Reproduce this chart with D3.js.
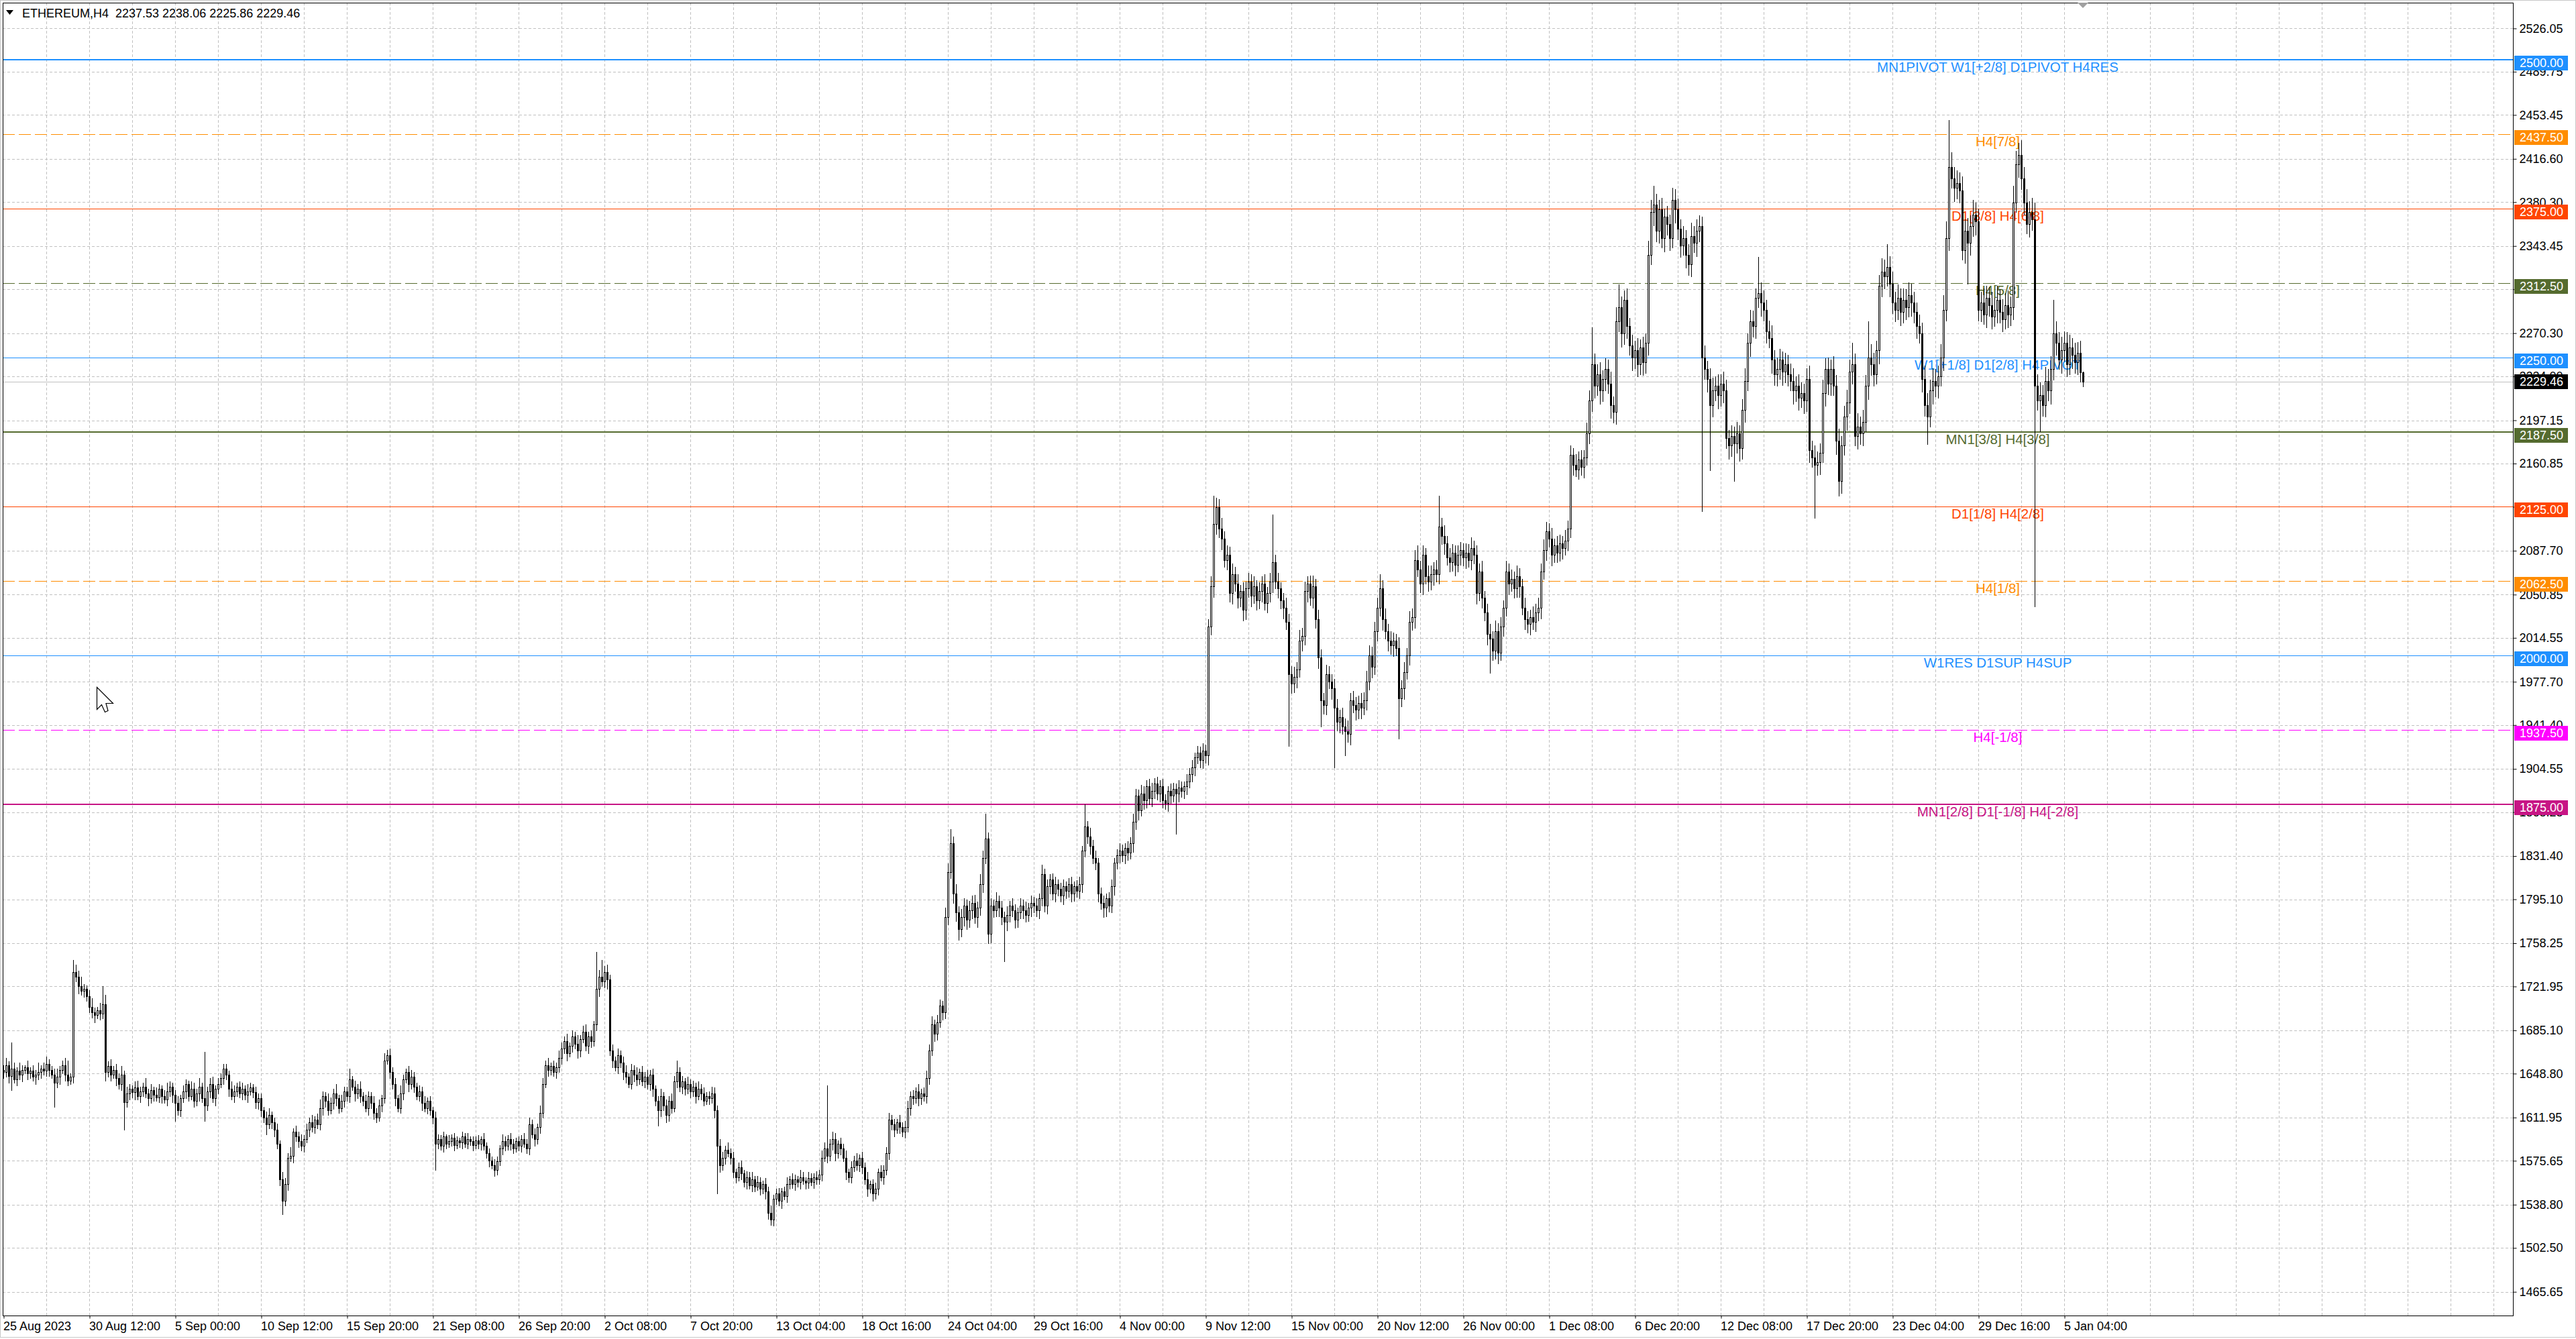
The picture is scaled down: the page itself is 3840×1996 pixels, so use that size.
<!DOCTYPE html>
<html>
<head>
<meta charset="utf-8">
<script src="https://cdn.jsdelivr.net/npm/d3@7"></script>
<style>
  html, body { margin: 0; padding: 0; background: #fff; overflow: hidden; }
  text { font-family: "Liberation Sans", Arial, sans-serif; }
</style>
</head>
<body>
<svg id="chart"></svg>
<script>

/**************************************************
 * Data                                           *
 **************************************************/

var symbolTitle = 'ETHEREUM,H4  2237.53 2238.06 2225.86 2229.46';

var firstOpen = 1652;

// H4 closes, one row per 16 bars
var closes = [
  1650,1656,1647,1653,1644,1651,1648,1652,1654,1649,1651,1646,1648,1650,1653,1651,
  1657,1652,1648,1641,1646,1652,1656,1648,1643,1646,1734,1730,1722,1718,1720,1714,
  1705,1700,1698,1702,1699,1707,1650,1655,1648,1652,1645,1640,1648,1625,1632,1636,
  1633,1637,1630,1634,1638,1632,1628,1635,1631,1629,1636,1630,1627,1634,1638,1631,
  1624,1618,1628,1634,1640,1630,1636,1626,1632,1638,1628,1622,1634,1640,1628,1636,
  1640,1645,1653,1648,1636,1630,1634,1638,1632,1636,1631,1634,1637,1633,1625,1628,
  1618,1612,1606,1614,1608,1602,1590,1560,1542,1556,1578,1580,1600,1596,1592,1588,
  1594,1602,1608,1604,1610,1606,1620,1630,1626,1618,1624,1632,1628,1620,1626,1634,
  1630,1644,1638,1632,1636,1630,1626,1620,1630,1624,1616,1612,1622,1628,1660,1664,
  1650,1640,1628,1620,1632,1644,1650,1640,1646,1638,1630,1634,1624,1620,1626,1618,
  1612,1590,1594,1588,1596,1590,1592,1595,1589,1593,1591,1596,1590,1594,1592,1589,
  1593,1590,1594,1588,1582,1576,1572,1568,1575,1586,1592,1588,1594,1590,1586,1592,
  1588,1594,1590,1586,1606,1598,1594,1604,1616,1640,1656,1652,1655,1650,1654,1662,
  1670,1676,1666,1672,1680,1674,1668,1678,1684,1672,1680,1676,1690,1720,1730,1726,
  1734,1728,1668,1660,1654,1664,1658,1650,1646,1640,1652,1648,1644,1650,1642,1646,
  1640,1648,1636,1626,1618,1630,1622,1614,1626,1620,1642,1650,1638,1642,1636,1640,
  1634,1638,1630,1636,1632,1626,1630,1628,1632,1618,1588,1572,1578,1585,1582,1578,
  1566,1562,1570,1565,1558,1562,1555,1560,1554,1558,1552,1556,1550,1532,1526,1544,
  1548,1542,1550,1546,1556,1560,1556,1560,1558,1562,1559,1557,1561,1558,1562,1560,
  1564,1578,1586,1580,1590,1594,1582,1590,1586,1578,1566,1562,1570,1576,1572,1578,
  1570,1560,1552,1556,1548,1552,1566,1562,1568,1582,1610,1606,1602,1608,1604,1600,
  1604,1620,1630,1628,1634,1628,1632,1630,1645,1668,1690,1682,1692,1706,1700,1780,
  1818,1842,1800,1784,1770,1780,1790,1778,1786,1792,1780,1788,1808,1830,1846,1766,
  1790,1786,1794,1788,1780,1776,1782,1790,1786,1778,1784,1790,1786,1782,1788,1792,
  1790,1786,1796,1816,1790,1806,1812,1800,1808,1804,1798,1806,1802,1808,1800,1806,
  1802,1808,1836,1856,1848,1840,1830,1826,1800,1792,1788,1796,1790,1806,1826,1832,
  1836,1832,1838,1834,1842,1860,1882,1870,1884,1878,1890,1880,1886,1892,1884,1890,
  1878,1876,1886,1882,1888,1884,1889,1886,1890,1894,1900,1906,1914,1918,1912,1920,
  1916,2024,2058,2110,2124,2106,2098,2080,2084,2052,2068,2060,2048,2054,2038,2056,
  2062,2050,2058,2046,2054,2060,2044,2052,2062,2078,2062,2056,2046,2040,2028,1984,
  1976,1982,1988,2012,2016,2054,2060,2048,2058,2030,1998,1962,1958,1984,1978,1972,
  1956,1944,1948,1940,1936,1934,1962,1958,1954,1960,1956,1962,1978,2000,1990,2020,
  2040,2056,2030,2020,2012,2008,2012,2006,1964,1972,1986,2000,2028,2032,2080,2072,
  2060,2084,2066,2062,2068,2072,2068,2108,2100,2094,2082,2078,2086,2076,2084,2088,
  2082,2086,2080,2090,2084,2052,2070,2048,2036,2018,2014,2004,2020,2002,2024,2040,
  2070,2060,2064,2056,2066,2058,2040,2030,2026,2032,2028,2036,2040,2070,2088,2104,
  2098,2084,2092,2086,2094,2090,2096,2106,2168,2160,2156,2164,2158,2166,2186,2214,
  2244,2226,2236,2222,2232,2240,2228,2210,2204,2280,2292,2270,2298,2276,2260,2250,
  2256,2244,2258,2246,2262,2336,2372,2378,2356,2374,2350,2368,2362,2350,2382,2374,
  2358,2344,2350,2336,2328,2352,2346,2356,2360,2250,2240,2232,2210,2222,2226,2218,
  2228,2222,2182,2176,2184,2178,2186,2174,2206,2230,2262,2280,2276,2300,2304,2296,
  2290,2272,2266,2248,2236,2240,2248,2238,2244,2236,2230,2222,2226,2216,2220,2214,
  2232,2172,2166,2160,2162,2170,2220,2240,2228,2240,2226,2180,2146,2176,2200,2212,
  2238,2244,2184,2192,2186,2196,2226,2250,2244,2236,2256,2310,2322,2318,2326,2312,
  2296,2290,2300,2288,2298,2292,2302,2296,2288,2276,2270,2232,2210,2200,2222,2230,
  2226,2234,2250,2290,2350,2410,2400,2392,2396,2390,2340,2356,2346,2360,2370,2364,
  2290,2296,2286,2300,2294,2284,2290,2298,2288,2282,2294,2286,2292,2380,2412,2420,
  2400,2380,2362,2372,2366,2226,2214,2218,2210,2230,2222,2240,2270,2262,2248,2256,
  2262,2244,2258,2252,2246,2254,2237.53,2229.46
];

// upper wick above the body, per bar
var wickUp = [
  4,6,3,22,5,3,7,4,2,6,3,5,4,8,3,5,
  6,4,3,5,7,3,4,6,12,3,10,6,5,8,4,3,
  5,7,4,3,6,15,8,4,6,3,5,4,7,3,6,4,
  3,5,6,4,3,7,4,5,3,6,4,3,5,7,4,3,
  4,6,3,5,4,3,6,5,4,7,3,39,4,5,6,3,
  5,4,4,4,3,6,5,3,4,5,3,6,4,3,5,4,
  4,3,5,6,3,4,5,3,6,5,4,7,3,5,4,6,
  3,5,4,6,3,5,7,4,3,6,5,4,8,3,5,4,
  4,9,3,5,4,6,3,5,4,3,6,4,5,3,6,5,
  6,4,5,3,7,4,3,5,6,4,3,5,4,6,3,4,
  3,5,4,3,4,2,5,3,4,3,2,4,3,5,2,4,
  3,4,2,5,3,4,3,5,4,3,6,4,3,5,4,3,
  4,3,5,4,6,4,5,3,6,5,4,6,3,5,4,6,
  5,4,6,3,5,4,7,3,5,6,4,5,3,31,6,14,
  5,6,4,5,3,6,4,5,6,3,5,4,6,3,5,4,
  6,4,5,3,4,6,3,5,4,6,5,10,4,5,3,6,
  4,5,3,6,4,5,3,4,6,5,4,6,5,3,6,4,
  5,3,4,6,3,5,4,6,3,5,4,3,5,4,6,3,
  4,5,3,4,6,3,5,4,3,6,4,3,5,4,3,5,
  4,6,5,53,4,6,5,3,5,4,6,3,5,4,6,3,
  5,4,6,3,4,5,3,6,4,5,6,4,5,3,6,4,
  5,6,4,5,3,6,4,5,6,5,7,4,6,5,4,8,
  7,12,6,8,5,7,6,5,8,6,7,5,8,6,21,5,
  6,5,7,4,6,5,7,4,6,5,4,6,5,7,4,6,
  5,6,4,8,5,6,4,5,6,4,5,6,4,5,6,4,
  5,6,4,19,5,7,5,6,4,5,6,4,5,6,4,5,
  6,5,4,6,5,7,6,5,7,6,5,6,7,5,6,5,
  6,5,4,6,5,4,6,5,4,6,5,6,4,6,5,6,
  5,6,8,24,8,7,9,6,8,7,9,6,8,5,7,6,
  7,6,8,5,7,6,8,5,7,40,6,7,5,6,8,7,
  7,8,6,9,7,8,6,7,9,6,8,7,6,8,7,6,
  8,7,6,8,7,9,6,8,7,6,8,7,9,8,7,8,
  8,12,7,9,6,8,7,6,9,7,8,6,9,7,8,12,
  7,8,6,9,7,6,8,26,7,9,6,8,7,6,8,7,
  6,8,7,9,6,8,7,9,6,7,8,6,9,7,8,6,
  9,7,8,6,9,7,6,8,7,6,9,7,8,7,9,8,
  7,9,6,8,7,6,9,7,8,6,9,7,8,6,9,8,
  31,9,8,10,7,9,8,10,7,12,19,9,8,10,7,9,
  8,10,7,9,8,12,10,16,9,8,10,7,9,8,10,9,
  9,8,10,7,9,11,8,10,9,8,10,7,9,11,8,10,
  8,10,9,7,9,8,10,7,9,11,8,10,9,8,30,9,
  10,8,9,11,8,10,9,7,10,8,9,11,8,10,9,8,
  9,11,8,10,9,8,11,9,10,8,11,9,10,8,9,11,
  10,18,9,11,8,10,9,30,11,10,8,9,11,10,19,9,
  10,9,11,8,10,9,11,10,9,8,10,9,11,10,9,11,
  10,9,11,12,14,39,12,10,11,9,12,10,11,9,12,10,
  11,9,12,10,9,11,10,12,9,11,10,12,9,14,11,10,
  12,10,11,9,12,14,10,11,9,12,10,11,28,10,9,11,
  10,9,11,8,10,9,10,0.53
];

// lower wick below the body, per bar
var wickDn = [
  5,4,6,12,3,5,4,6,3,5,4,3,6,4,5,3,
  4,5,3,20,4,6,3,5,4,3,5,4,6,3,5,4,
  5,4,6,3,5,4,7,4,5,3,6,4,5,23,4,5,
  4,6,3,5,4,3,6,4,5,3,4,6,3,5,4,6,
  15,4,5,3,6,4,3,5,4,6,3,13,4,5,3,6,
  4,3,5,4,6,3,5,4,3,5,4,6,3,4,5,6,
  5,4,8,3,5,6,4,5,11,4,5,3,6,4,5,4,
  5,3,6,4,5,3,4,6,5,4,3,5,6,4,3,5,
  4,5,3,6,4,5,4,3,6,4,5,4,3,5,4,3,
  5,4,6,3,4,5,3,6,4,5,3,4,6,3,5,4,
  5,22,4,3,5,4,3,4,5,3,4,5,3,4,3,5,
  3,4,5,3,4,5,3,5,4,3,5,4,3,5,4,3,
  4,5,3,4,5,3,6,4,5,4,3,5,4,3,5,4,
  5,4,6,3,5,4,6,5,3,4,6,5,4,5,6,4,
  5,8,4,6,3,5,4,6,5,3,4,6,5,4,3,5,
  4,5,6,4,13,5,4,6,5,4,3,5,4,6,5,4,
  5,4,6,3,5,4,3,5,4,6,40,6,4,5,3,5,
  4,5,3,5,4,6,3,5,4,3,5,4,6,5,4,5,
  5,4,6,3,5,4,3,5,4,6,3,5,4,3,5,4,
  4,5,3,6,4,5,6,4,5,3,6,4,5,3,4,5,
  5,4,6,3,6,4,5,3,6,4,5,4,6,3,5,4,
  5,4,6,5,4,6,5,4,6,5,4,6,5,4,6,5,
  6,5,8,7,9,6,7,8,6,7,5,8,6,7,5,8,
  7,6,5,7,6,33,7,6,5,7,6,5,7,6,5,7,
  6,5,7,6,5,7,6,5,7,6,5,7,6,5,7,6,
  5,6,7,5,6,7,5,6,7,5,8,7,5,6,7,5,
  6,5,7,6,5,7,6,8,5,7,6,5,7,6,5,7,
  6,5,7,6,5,34,7,5,6,7,5,6,7,5,6,7,
  6,8,7,9,8,7,9,6,8,7,9,6,8,7,9,8,
  7,9,6,8,7,9,6,8,7,9,6,8,7,9,6,60,
  8,7,9,6,8,7,9,6,8,7,9,22,7,8,6,9,
  50,7,9,6,20,7,9,6,8,7,9,6,8,7,9,6,
  8,7,9,6,8,7,9,6,34,7,9,6,8,7,9,6,
  7,9,6,8,7,9,6,8,7,9,6,8,7,9,6,8,
  7,9,6,8,7,9,6,8,7,9,29,8,7,9,6,8,
  7,9,6,8,7,9,6,8,7,9,6,8,7,9,6,8,
  7,9,6,8,7,9,6,8,7,9,6,8,7,9,6,8,
  9,10,8,11,9,10,8,11,9,10,8,11,9,10,8,11,
  9,10,8,11,9,10,8,11,9,10,8,11,9,10,8,11,
  9,10,8,11,9,10,8,11,9,129,8,11,55,10,8,11,
  9,10,8,11,9,32,8,11,9,10,8,11,9,10,8,11,
  9,10,8,11,9,10,8,11,9,10,8,11,9,10,8,11,
  9,10,8,45,9,10,8,11,9,10,8,11,12,10,8,11,
  9,10,8,11,9,10,8,11,9,10,8,11,9,10,8,11,
  9,10,8,11,9,10,8,11,9,10,8,11,9,23,8,11,
  9,10,8,11,9,10,8,11,9,10,8,11,34,10,8,11,
  9,10,8,11,9,10,8,11,9,10,8,11,9,10,8,11,
  9,10,8,11,9,185,8,26,9,10,8,11,9,10,8,11,
  9,10,8,11,9,10,8,3.6
];

// price axis tick labels
var priceTicks = [2526.05, 2489.75, 2453.45, 2416.60, 2380.30, 2343.45, 2307.15, 2270.30,
  2234.00, 2197.15, 2160.85, 2124.55, 2087.70, 2050.85, 2014.55, 1977.70, 1941.40, 1904.55,
  1868.25, 1831.40, 1795.10, 1758.25, 1721.95, 1685.10, 1648.80, 1611.95, 1575.65, 1538.80,
  1502.50, 1465.65];

// time axis labels, every 32 bars
var timeLabels = ['25 Aug 2023', '30 Aug 12:00', '5 Sep 00:00', '10 Sep 12:00', '15 Sep 20:00',
  '21 Sep 08:00', '26 Sep 20:00', '2 Oct 08:00', '7 Oct 20:00', '13 Oct 04:00', '18 Oct 16:00',
  '24 Oct 04:00', '29 Oct 16:00', '4 Nov 00:00', '9 Nov 12:00', '15 Nov 00:00', '20 Nov 12:00',
  '26 Nov 00:00', '1 Dec 08:00', '6 Dec 20:00', '12 Dec 08:00', '17 Dec 20:00', '23 Dec 04:00',
  '29 Dec 16:00', '5 Jan 04:00'];
var timeLabelStep = 32;

// Murrey / pivot levels
var levelPrices = [2500, 2437.5, 2375, 2312.5, 2250, 2187.5, 2125, 2062.5, 2000, 1937.5, 1875];
var levelTexts = ['MN1PIVOT W1[+2/8] D1PIVOT H4RES', 'H4[7/8]', 'D1[3/8] H4[6/8]', 'H4[5/8]',
  'W1[+1/8] D1[2/8] H4PIVOT', 'MN1[3/8] H4[3/8]', 'D1[1/8] H4[2/8]', 'H4[1/8]',
  'W1RES D1SUP H4SUP', 'H4[-1/8]', 'MN1[2/8] D1[-1/8] H4[-2/8]'];

var lastPrice = 2229.46;

/**************************************************
 * Styles                                         *
 **************************************************/

var levelStyle = [
  { color: '#1E90FF', width: 2, dash: null },
  { color: '#FF8C00', width: 1, dash: '18,6' },
  { color: '#FF4500', width: 1, dash: null },
  { color: '#556B2F', width: 1, dash: '18,6' },
  { color: '#1E90FF', width: 1, dash: null },
  { color: '#556B2F', width: 2, dash: null },
  { color: '#FF4500', width: 1, dash: null },
  { color: '#FF8C00', width: 1, dash: '18,6' },
  { color: '#1E90FF', width: 1, dash: null },
  { color: '#FF00FF', width: 1, dash: '18,6' },
  { color: '#C71585', width: 2, dash: null }
];

var width = 3840,
  height = 1996,
  plotLeft = 4,
  plotTop = 4,
  plotRight = 3746,
  plotBottom = 1961,
  gridColor = '#C0C0C0',
  labelCenterX = 2978;

/**************************************************
 * Draw                                           *
 **************************************************/

var svg = d3.select('#chart').attr('width', width).attr('height', height);

svg.append('rect').attr('width', width).attr('height', height).attr('fill', '#fff');

// bar index -> pixel, 4 px per bar
var x = d3.scaleLinear().domain([0, 775]).range([5, 3105]);
var y = d3.scaleLinear().domain([1445.76, 2547.67]).range([plotBottom, plotTop]);

function crisp(v) { return Math.round(v) + 0.5; }

// grid
var grid = svg.append('g').attr('stroke', gridColor).attr('stroke-width', 1)
  .attr('stroke-dasharray', '4,3').attr('shape-rendering', 'crispEdges');

var gridBars = d3.range(16, 930, 16).filter(function(b) { return x(b) < plotRight - 4; });
grid.selectAll('line.v').data(gridBars).enter().append('line')
  .attr('x1', function(d) { return crisp(x(d)); })
  .attr('x2', function(d) { return crisp(x(d)); })
  .attr('y1', plotTop).attr('y2', plotBottom);

grid.selectAll('line.h').data(priceTicks).enter().append('line')
  .attr('x1', plotLeft).attr('x2', plotRight)
  .attr('y1', function(d) { return crisp(y(d)); })
  .attr('y2', function(d) { return crisp(y(d)); });

// level lines and their labels (behind the candles)
var levels = svg.append('g').attr('shape-rendering', 'crispEdges');
levelPrices.forEach(function(p, i) {
  var st = levelStyle[i];
  var ly = st.width === 2 ? Math.round(y(p)) : crisp(y(p));
  levels.append('line')
    .attr('x1', plotLeft).attr('x2', plotRight)
    .attr('y1', ly).attr('y2', ly)
    .attr('stroke', st.color)
    .attr('stroke-width', st.width)
    .attr('stroke-dasharray', st.dash);
  svg.append('text')
    .attr('x', labelCenterX)
    .attr('y', y(p) + 18)
    .attr('text-anchor', 'middle')
    .attr('font-size', '20.5px')
    .attr('fill', st.color)
    .text(levelTexts[i]);
});

// bid line
svg.append('line')
  .attr('x1', plotLeft).attr('x2', plotRight)
  .attr('y1', crisp(y(lastPrice))).attr('y2', crisp(y(lastPrice)))
  .attr('stroke', '#C0C0C0').attr('shape-rendering', 'crispEdges');

// candles
var bars = closes.map(function(c, i) {
  var o = i ? closes[i - 1] : firstOpen;
  return {
    i: i, o: o, c: c,
    h: Math.max(o, c) + wickUp[i],
    l: Math.min(o, c) - wickDn[i]
  };
});

var candles = svg.append('g').attr('shape-rendering', 'crispEdges');

candles.selectAll('line').data(bars).enter().append('line')
  .attr('x1', function(d) { return x(d.i) + 0.5; })
  .attr('x2', function(d) { return x(d.i) + 0.5; })
  .attr('y1', function(d) { return Math.round(y(d.h)); })
  .attr('y2', function(d) { return Math.round(y(d.l)) + 1; })
  .attr('stroke', '#000');

candles.selectAll('rect').data(bars).enter().append('rect')
  .attr('x', function(d) { return x(d.i) - 0.5; })
  .attr('y', function(d) { return crisp(y(Math.max(d.o, d.c))); })
  .attr('width', 2)
  .attr('height', function(d) {
    return Math.round(y(Math.min(d.o, d.c))) - Math.round(y(Math.max(d.o, d.c)));
  })
  .attr('fill', function(d) { return d.c >= d.o ? '#fff' : '#000'; })
  .attr('stroke', '#000');

// frame
svg.append('rect')
  .attr('x', plotLeft + 0.5).attr('y', plotTop + 0.5)
  .attr('width', plotRight - plotLeft).attr('height', plotBottom - plotTop)
  .attr('fill', 'none').attr('stroke', '#000').attr('shape-rendering', 'crispEdges');

svg.append('rect')
  .attr('x', 0.5).attr('y', 0.5).attr('width', width - 1).attr('height', height - 3)
  .attr('fill', 'none').attr('stroke', '#C8C8C8');

// price axis
var yAxis = d3.axisRight(y).tickValues(priceTicks).tickSize(5).tickSizeOuter(0).tickPadding(4)
  .tickFormat(function(d) { return d.toFixed(2); });
var yAxisG = svg.append('g').attr('transform', 'translate(' + (plotRight + 0.5) + ',0)').call(yAxis);
yAxisG.select('.domain').remove();
yAxisG.selectAll('text').attr('font-size', '18px').attr('fill', '#000')
  .style('font-family', '"Liberation Sans", Arial, sans-serif');
yAxisG.selectAll('line').attr('stroke', '#000');

// time axis
var timeBars = timeLabels.map(function(t, i) { return i * timeLabelStep; });
var xAxis = d3.axisBottom(x).tickValues(timeBars).tickSize(4).tickSizeOuter(0).tickPadding(5)
  .tickFormat(function(d, i) { return timeLabels[i]; });
var xAxisG = svg.append('g').attr('transform', 'translate(0.5,' + (plotBottom + 0.5) + ')').call(xAxis);
xAxisG.select('.domain').remove();
xAxisG.selectAll('text').attr('font-size', '18px').attr('fill', '#000')
  .attr('text-anchor', 'start').attr('x', -1)
  .style('font-family', '"Liberation Sans", Arial, sans-serif');
xAxisG.selectAll('line').attr('stroke', '#000');

// price boxes on the axis
function priceBox(p, color, top, label) {
  var by = Math.round(y(p)) + top;
  svg.append('rect')
    .attr('x', plotRight + 2).attr('y', by)
    .attr('width', 80).attr('height', 22)
    .attr('fill', color);
  svg.append('text')
    .attr('x', plotRight + 10).attr('y', by + 17)
    .attr('font-size', '18px').attr('fill', '#fff')
    .text(label);
}
levelPrices.forEach(function(p, i) {
  priceBox(p, levelStyle[i].color, -6, p.toFixed(2));
});
priceBox(lastPrice, '#000', -11, lastPrice.toFixed(2));

// header
svg.append('path').attr('d', 'M9,15 L20,15 L14.5,22 Z').attr('fill', '#000');
svg.append('text')
  .attr('x', 33).attr('y', 26)
  .attr('font-size', '18px').attr('fill', '#000')
  .style('white-space', 'pre')
  .text(symbolTitle);

// chart shift marker
svg.append('path').attr('d', 'M3097,4 L3113,4 L3105,12 Z').attr('fill', '#A0A0A0');

// mouse cursor
svg.append('path')
  .attr('d', 'M144.5,1024.5 L144.5,1057.5 L151.5,1050.5 L156.5,1061.5 L161,1059.5 L158,1048.5 L168.5,1048.5 Z')
  .attr('fill', '#fff').attr('stroke', '#000').attr('stroke-width', 1.2);

console.log(closes.length, wickUp.length, wickDn.length);

</script>
</body>
</html>
